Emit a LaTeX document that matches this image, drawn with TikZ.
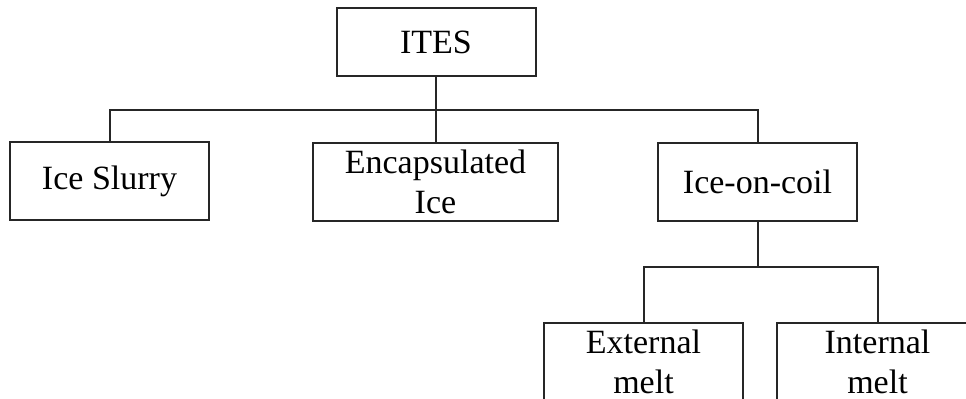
\documentclass[tikz,border=0pt]{standalone}
\usepackage{fontspec}
\setmainfont{Liberation Serif}
\usepackage{tikz}

\begin{document}
\begin{tikzpicture}[x=0.5pt,y=-0.5pt]
    \tikzstyle{every node}+=[inner sep=0pt]
    \tikzstyle{typebox}=[draw=black!85, line width=1pt, align=center,
        minimum width=99.5pt, minimum height=39pt,
        font=\fontsize{17}{20}\selectfont]
    \clip (0,0) rectangle (966,399);
    \node [typebox, minimum height=34pt] (ites) at (436,42) {ITES};
    \node [typebox] (slurry) at (109.5,181) {Ice Slurry};
    \node [typebox, minimum width=122.5pt] (encap) at (435.5,182) {Encapsulated\\Ice};
    \node [typebox] (coil) at (757.5,182) {Ice-on-coil};
    \node [typebox] (ext) at (643.5,362) {External\\melt};
    \node [typebox, minimum width=100.5pt] (int) at (877.5,362) {Internal\\melt};
    \coordinate (busA) at (436,110);
    \coordinate (busB) at (757.5,267);
    \draw [black!85, line width=1pt] (ites.south) -- (busA);
    \draw [black!85, line width=1pt] (slurry.north) |- (busA) -| (coil.north);
    \draw [black!85, line width=1pt] (encap.north) -- (encap.north |- busA);
    \draw [black!85, line width=1pt] (coil.south) -- (busB);
    \draw [black!85, line width=1pt] (ext.north) |- (busB) -| (int.north);
\end{tikzpicture}
\end{document}
